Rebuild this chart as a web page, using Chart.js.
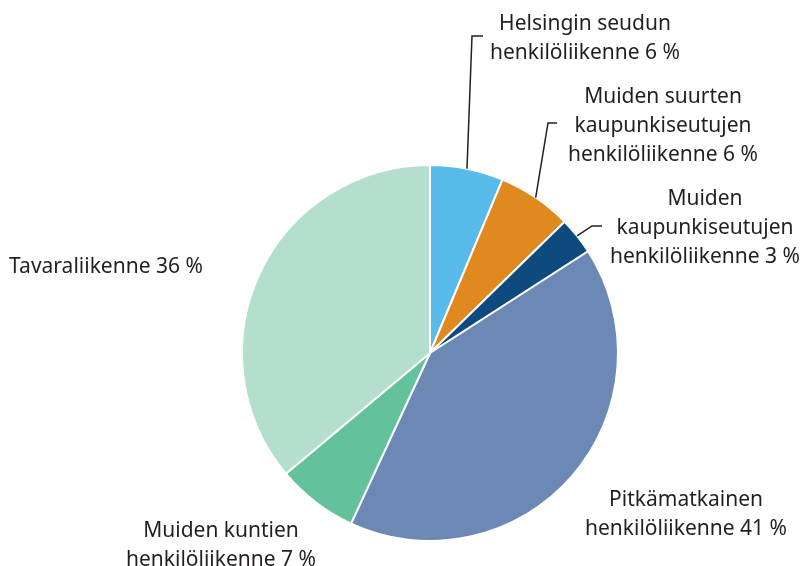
<!DOCTYPE html>
<html>
<head>
<meta charset="utf-8">
<script src="https://cdn.jsdelivr.net/npm/chart.js@4.4.1/dist/chart.umd.min.js"></script>
<style>
    html, body { margin: 0; padding: 0; background: #fff; }
    #wrap { width: 802px; height: 566px; }
</style>
</head>
<body>
<div id="wrap"><canvas id="pie" width="802" height="566"></canvas></div>
<script>
// data (share of total, %)
const categories = [
    'Helsingin seudun henkilöliikenne',
    'Muiden suurten kaupunkiseutujen henkilöliikenne',
    'Muiden kaupunkiseutujen henkilöliikenne',
    'Pitkämatkainen henkilöliikenne',
    'Muiden kuntien henkilöliikenne',
    'Tavaraliikenne'
];
const shares = [6.3, 6.4, 3.2, 41.0, 7.0, 36.1];
const labelLines = [
    ['Helsingin seudun', 'henkilöliikenne 6 %'],
    ['Muiden suurten', 'kaupunkiseutujen', 'henkilöliikenne 6 %'],
    ['Muiden', 'kaupunkiseutujen', 'henkilöliikenne 3 %'],
    ['Pitkämatkainen', 'henkilöliikenne 41 %'],
    ['Muiden kuntien', 'henkilöliikenne 7 %'],
    ['Tavaraliikenne 36 %']
];

const colors = ['#58bbe9', '#e0891e', '#0f4a7e', '#6b89b4', '#63c29c', '#b3dfcc'];

// where each label sits (centre x, first baseline y) and its leader line, if any
const layout = [
    { x: 585, y: 30, leader: [[472, 36], [483, 36]] },
    { x: 663, y: 103, leader: [[548, 123], [557, 123]] },
    { x: 705, y: 205, leader: [[592, 226], [602, 226]] },
    { x: 686, y: 506 },
    { x: 221, y: 537 },
    { x: 106, y: 273 }
];

const labelPlugin = {
    id: 'pieLabels',
    afterDraw(chart) {
        const ctx = chart.ctx;
        const arcs = chart.getDatasetMeta(0).data;
        ctx.save();
        ctx.font = '21px "Noto Sans", sans-serif';
        ctx.fillStyle = '#231f20';
        ctx.textAlign = 'center';
        ctx.textBaseline = 'alphabetic';
        labelLines.forEach((lines, i) => {
            const pos = layout[i];
            lines.forEach((t, j) => ctx.fillText(t, pos.x, pos.y + j * 29));
            if (pos.leader) {
                const a = arcs[i];
                const p = a.getProps(['x', 'y', 'startAngle', 'endAngle', 'outerRadius'], true);
                const mid = (p.startAngle + p.endAngle) / 2;
                ctx.beginPath();
                ctx.strokeStyle = '#231f20';
                ctx.lineWidth = 1.5;
                ctx.moveTo(p.x + Math.cos(mid) * p.outerRadius, p.y + Math.sin(mid) * p.outerRadius);
                pos.leader.forEach(pt => ctx.lineTo(pt[0], pt[1]));
                ctx.stroke();
            }
        });
        ctx.restore();
    }
};

new Chart(document.getElementById('pie').getContext('2d'), {
    type: 'pie',
    data: {
        labels: categories,
        datasets: [{
            data: shares,
            backgroundColor: colors,
            borderColor: '#ffffff',
            borderWidth: 2
        }]
    },
    options: {
        responsive: false,
        animation: false,
        layout: { padding: { left: 241, right: 183, top: 164, bottom: 24 } },
        plugins: {
            legend: { display: false },
            tooltip: { enabled: false }
        }
    },
    plugins: [labelPlugin]
});
</script>
</body>
</html>
